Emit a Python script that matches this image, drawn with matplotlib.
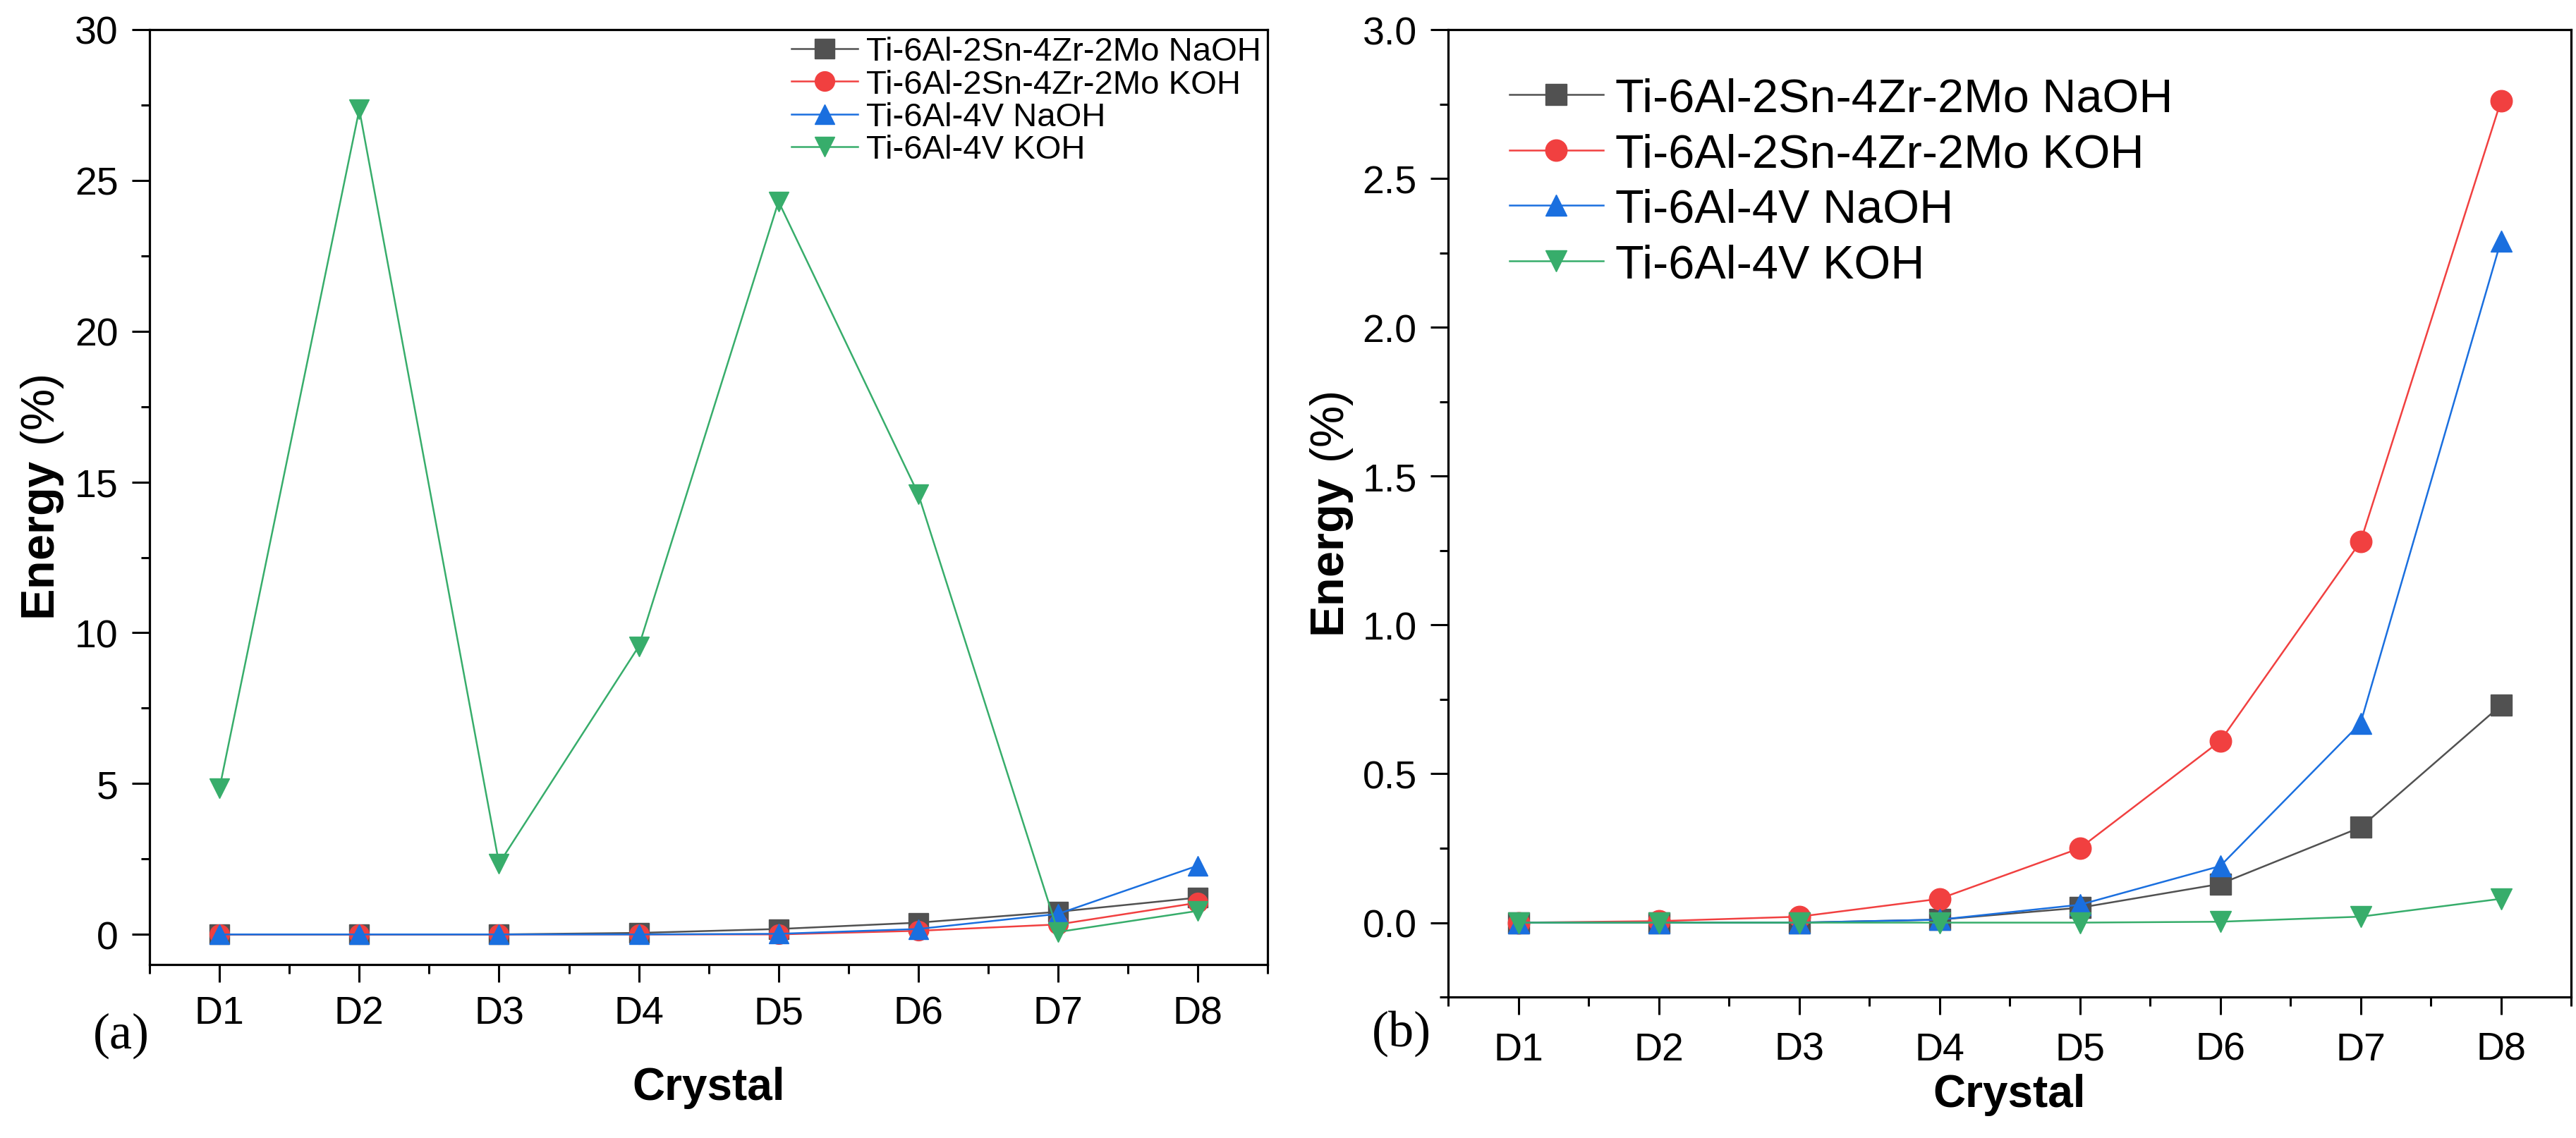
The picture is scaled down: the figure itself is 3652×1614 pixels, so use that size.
import matplotlib
matplotlib.use("Agg")
import matplotlib.pyplot as plt
import numpy as np

# fontes: Arial-equivalente para tudo, serifada para (a)/(b)
plt.rcParams['font.family'] = ['Liberation Sans', 'DejaVu Sans']
plt.rcParams['mathtext.fontset'] = 'custom'
plt.rcParams['mathtext.rm'] = 'Liberation Sans'
plt.rcParams['mathtext.bf'] = 'Liberation Sans:bold'

# dados
crystals = ['D1', 'D2', 'D3', 'D4', 'D5', 'D6', 'D7', 'D8']
series_names = ['Ti-6Al-2Sn-4Zr-2Mo NaOH', 'Ti-6Al-2Sn-4Zr-2Mo KOH',
                'Ti-6Al-4V NaOH', 'Ti-6Al-4V KOH']

# painel (a)
a_ti6242_naoh = [0.0, 0.0, 0.0, 0.05, 0.18, 0.39, 0.75, 1.22]
a_ti6242_koh = [0.0, 0.0, 0.0, 0.0, 0.0, 0.12, 0.33, 1.05]
a_ti64_naoh = [0.0, 0.0, 0.0, 0.0, 0.02, 0.18, 0.68, 2.28]
a_ti64_koh = [4.85, 27.35, 2.35, 9.55, 24.3, 14.6, 0.08, 0.78]

# painel (b)
b_ti6242_naoh = [0.0, 0.0, 0.0, 0.01, 0.05, 0.13, 0.32, 0.73]
b_ti6242_koh = [0.0, 0.005, 0.02, 0.08, 0.25, 0.61, 1.28, 2.76]
b_ti64_naoh = [0.0, 0.0, 0.0, 0.01, 0.06, 0.19, 0.67, 2.29]
b_ti64_koh = [0.0, 0.0, 0.0, 0.0, 0.0, 0.003, 0.02, 0.08]

colors = ['#515151', '#F14040', '#1A6FDF', '#37AD6B']
markers = ['s', 'o', '^', 'v']

x = np.arange(1, len(crystals) + 1)

fig = plt.figure(figsize=(36.52, 16.15), dpi=100)
ax1 = fig.add_axes([0.0581, 0.1523, 0.4340, 0.8211])
ax2 = fig.add_axes([0.5622, 0.1238, 0.4359, 0.8495])


def style_axes(ax, xpad):
    for s in ax.spines.values():
        s.set_linewidth(2.3)
    ax.set_xlim(0.5, 8.5)
    ax.set_xticks(x)
    ax.set_xticklabels(crystals)
    ax.set_xticks(np.arange(0.5, 8.6, 1.0), minor=True)
    ax.tick_params(which='both', direction='out', width=2.2, top=False, right=False)
    ax.tick_params(which='major', length=18, labelsize=40)
    ax.tick_params(which='minor', length=9)
    ax.tick_params(axis='x', pad=xpad)
    ax.tick_params(axis='y', pad=14)


# painel (a)
a_data = [a_ti6242_naoh, a_ti6242_koh, a_ti64_naoh, a_ti64_koh]
for vals, c, m, name in zip(a_data, colors, markers, series_names):
    ax1.plot(x, vals, color=c, marker=m, markersize=20, linewidth=1.8, label=name)
style_axes(ax1, 13)
ax1.set_ylim(-1, 30)
ax1.set_yticks(np.arange(0, 31, 5))
ax1.set_yticks(np.arange(2.5, 30, 5), minor=True)
ax1.legend(loc='upper right', frameon=False, fontsize=34, handlelength=2.0,
           handletextpad=0.25, labelspacing=0.05, borderaxespad=0.1, borderpad=0.1)

# painel (b)
b_data = [b_ti6242_naoh, b_ti6242_koh, b_ti64_naoh, b_ti64_koh]
for vals, c, m, name in zip(b_data, colors, markers, series_names):
    ax2.plot(x, vals, color=c, marker=m, markersize=22, linewidth=1.8, label=name)
style_axes(ax2, 17)
ax2.set_ylim(-0.25, 3.0)
ax2.set_yticks(np.arange(0, 3.01, 0.5))
ax2.set_yticks(np.arange(-0.25, 3.0, 0.5), minor=True)
ax2.yaxis.set_major_formatter(matplotlib.ticker.FormatStrFormatter('%.1f'))
ax2.legend(loc='upper left', frameon=False, fontsize=48, handlelength=2.0,
           handletextpad=0.25, labelspacing=0.25, borderaxespad=0.3,
           bbox_to_anchor=(0.025, 0.985))

# rótulos dos eixos
for ax, lx, ly in [(ax1, -0.0959, -0.131), (ax2, -0.1036, -0.1006)]:
    ax.set_ylabel(r'$\mathbf{Energy}\ \mathrm{(\%)}$', fontsize=48, va='center')
    ax.yaxis.set_label_coords(lx, 0.5)
    ax.set_xlabel('Crystal', fontweight='bold', fontsize=46, va='center')
    ax.xaxis.set_label_coords(0.5, ly)

fig.text(172 / 3652, 1 - 1469 / 1615, '(a)', family='Liberation Serif', fontsize=52,
         ha='center', va='center')
fig.text(1987 / 3652, 1 - 1466 / 1615, '(b)', family='Liberation Serif', fontsize=52,
         ha='center', va='center')

fig.savefig('out.png', dpi=100)
